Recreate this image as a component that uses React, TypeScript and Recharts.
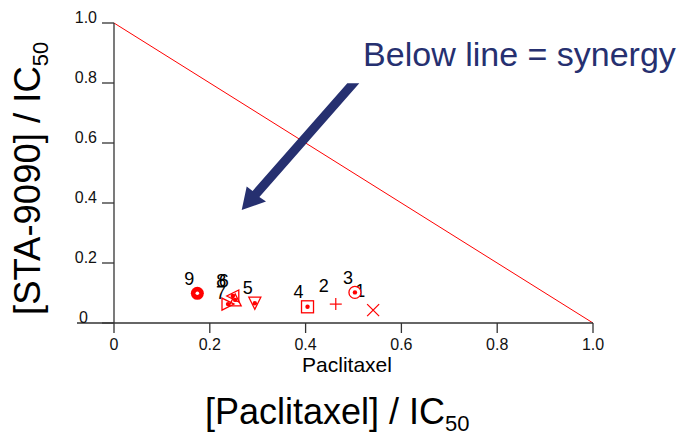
import { ComposedChart, Scatter, XAxis, YAxis, ReferenceLine, ReferenceDot } from 'recharts'

// combination index points (fraction of IC50 for each drug)
const pointLabels = ['1', '2', '3', '4', '5', '6', '7', '8', '9']
const paclitaxel = [0.541, 0.463, 0.503, 0.404, 0.294, 0.248, 0.238, 0.253, 0.174]
const sta9090 = [0.043, 0.063, 0.102, 0.054, 0.066, 0.09, 0.063, 0.077, 0.099]
const markers = ['x', 'plus', 'circleDot', 'squareDot', 'triDown', 'triLeft', 'triRight', 'triUp', 'bullseye']

const xTicks = [0, 0.2, 0.4, 0.6, 0.8, 1.0]
const xTickLabels = ['0', '0.2', '0.4', '0.6', '0.8', '1.0']
const yTicks = [0, 0.2, 0.4, 0.6, 0.8, 1.0]
const yTickLabels = ['0', '0.2', '0.4', '0.6', '0.8', '1.0']

// additivity line from (0,1) to (1,0)
const additivityX = [0, 1]
const additivityY = [1, 0]

// annotation anchors, in data units
const noteAt = { x: 0.52, y: 0.857 }
const arrowTip = { x: 0.2666, y: 0.377 }

// label offsets in px (centre x, baseline y) relative to each marker
const labelOffsets: [number, number][] = [
  [-13, -13.5], [-12, -12.5], [-7, -8], [-9, -9], [-7, -9],
  [-9, -9], [-7, -5], [-14, -13], [-8, -8],
]

const FONT = '"Liberation Sans", Arial, sans-serif'
const RED = '#ff0000'
const NAVY = '#263070'
const AXIS = '#333'

const data = pointLabels.map((label, i) => ({
  label, x: paclitaxel[i], y: sta9090[i], marker: markers[i], idx: i,
}))

function Marker(props: any) {
  const { cx, cy, payload } = props
  if (cx == null || cy == null) return null
  const s = 6
  const dot = <circle cx={cx} cy={cy} r={2.2} fill={RED} />
  let shape: any = null
  switch (payload.marker) {
    case 'x':
      shape = (
        <g stroke={RED} strokeWidth={1.2}>
          <line x1={cx - s} y1={cy - s} x2={cx + s} y2={cy + s} />
          <line x1={cx - s} y1={cy + s} x2={cx + s} y2={cy - s} />
        </g>
      )
      break
    case 'plus':
      shape = (
        <g stroke={RED} strokeWidth={1.2}>
          <line x1={cx - s} y1={cy} x2={cx + s} y2={cy} />
          <line x1={cx} y1={cy - s} x2={cx} y2={cy + s} />
        </g>
      )
      break
    case 'circleDot':
      shape = (<g><circle cx={cx} cy={cy} r={s} fill="#fff" stroke={RED} strokeWidth={1.3} />{dot}</g>)
      break
    case 'squareDot':
      shape = (<g><rect x={cx - s} y={cy - s} width={2 * s} height={2 * s} fill="#fff" stroke={RED} strokeWidth={1.3} />{dot}</g>)
      break
    case 'triDown':
      shape = (<g><polygon points={`${cx - s},${cy - s} ${cx + s},${cy - s} ${cx},${cy + s}`} fill="#fff" stroke={RED} strokeWidth={1.3} />{dot}</g>)
      break
    case 'triUp':
      shape = (<g><polygon points={`${cx - s},${cy + s} ${cx + s},${cy + s} ${cx},${cy - s}`} fill="none" stroke={RED} strokeWidth={1.3} />{dot}</g>)
      break
    case 'triLeft':
      shape = (<g><polygon points={`${cx + s},${cy - s} ${cx + s},${cy + s} ${cx - s},${cy}`} fill="none" stroke={RED} strokeWidth={1.3} />{dot}</g>)
      break
    case 'triRight':
      shape = (<g><polygon points={`${cx - s},${cy - s} ${cx - s},${cy + s} ${cx + s},${cy}`} fill="none" stroke={RED} strokeWidth={1.3} />{dot}</g>)
      break
    case 'bullseye':
      shape = (<g><circle cx={cx} cy={cy} r={6.5} fill={RED} /><circle cx={cx} cy={cy} r={1.8} fill="#fff" /></g>)
      break
  }
  const [dx, dy] = labelOffsets[payload.idx]
  return (
    <g>
      {shape}
      <text x={cx + dx} y={cy + dy} textAnchor="middle" fontFamily={FONT} fontSize={18} fill="#000">
        {payload.label}
      </text>
    </g>
  )
}

function XTick({ x, y, payload, index }: any) {
  return (
    <text x={x} y={y + 15} textAnchor="middle" fontFamily={FONT} fontSize={16} fill="#111">
      {xTickLabels[index] ?? payload.value}
    </text>
  )
}

function YTick({ x, y, payload, index }: any) {
  const shift = payload.value === 0 ? -9 : 0
  return (
    <text x={x - 3 + shift} y={y} textAnchor="end" fontFamily={FONT} fontSize={16} fill="#111">
      {yTickLabels[index] ?? payload.value}
    </text>
  )
}

function XTitle({ viewBox }: any) {
  const { x, y } = viewBox
  return (
    <g fontFamily={FONT} fill="#000">
      <line x1={x - 37} y1={y} x2={x} y2={y} stroke={AXIS} strokeWidth={1.3} />
      <text x={x + 233} y={y + 49} textAnchor="middle" fontSize={21}>Paclitaxel</text>
      <text x={x + 91} y={y + 101} fontSize={36}>
        [Paclitaxel] / IC<tspan fontSize={22} dy={7}>50</tspan>
      </text>
    </g>
  )
}

function YTitle({ viewBox }: any) {
  const { x, y } = viewBox
  const bx = x + 40
  const by = y + 292
  return (
    <text x={bx} y={by} transform={`rotate(-90, ${bx}, ${by})`} fontFamily={FONT} fontSize={36.5} fill="#000">
      [STA-9090] / IC<tspan fontSize={22} dy={8}>50</tspan>
    </text>
  )
}

function Note(props: any) {
  const { cx, cy } = props
  return (
    <text x={cx} y={cy} fontFamily={FONT} fontSize={34} fill={NAVY}>Below line = synergy</text>
  )
}

function Arrow(props: any) {
  const { cx, cy } = props
  const pts: [number, number][] = [
    [0, 0], [5, -23.3], [10.9, -19], [105.6, -126.7], [117.6, -126.7], [17.7, -13], [24.3, -8.3],
  ]
  return <polygon points={pts.map(([a, b]) => `${cx + a},${cy + b}`).join(' ')} fill={NAVY} />
}

export default function App() {
  return (
    <div style={{ position: 'absolute', left: 0, top: 0, background: '#fff' }}>
      <ComposedChart width={687} height={436} data={data} margin={{ top: 23, right: 94, bottom: 0, left: 0 }}>
        <XAxis
          type="number"
          dataKey="x"
          domain={[0, 1]}
          ticks={xTicks}
          tickSize={10}
          height={113}
          axisLine={{ stroke: AXIS, strokeWidth: 1.3 }}
          tickLine={{ stroke: AXIS, strokeWidth: 1.3 }}
          tick={<XTick />}
          label={{ content: (p: any) => <XTitle {...p} /> }}
        />
        <YAxis
          type="number"
          dataKey="y"
          domain={[0, 1]}
          ticks={yTicks}
          tickSize={12}
          width={114}
          axisLine={{ stroke: AXIS, strokeWidth: 1.3 }}
          tickLine={{ stroke: AXIS, strokeWidth: 1.3 }}
          tick={<YTick />}
          label={{ content: (p: any) => <YTitle {...p} /> }}
        />
        <ReferenceLine
          segment={[{ x: additivityX[0], y: additivityY[0] }, { x: additivityX[1], y: additivityY[1] }]}
          stroke={RED}
          strokeWidth={1}
        />
        <Scatter dataKey="y" shape={<Marker />} isAnimationActive={false} />
        <ReferenceDot x={arrowTip.x} y={arrowTip.y} ifOverflow="visible" shape={<Arrow />} />
        <ReferenceDot x={noteAt.x} y={noteAt.y} ifOverflow="visible" shape={<Note />} />
      </ComposedChart>
    </div>
  )
}
